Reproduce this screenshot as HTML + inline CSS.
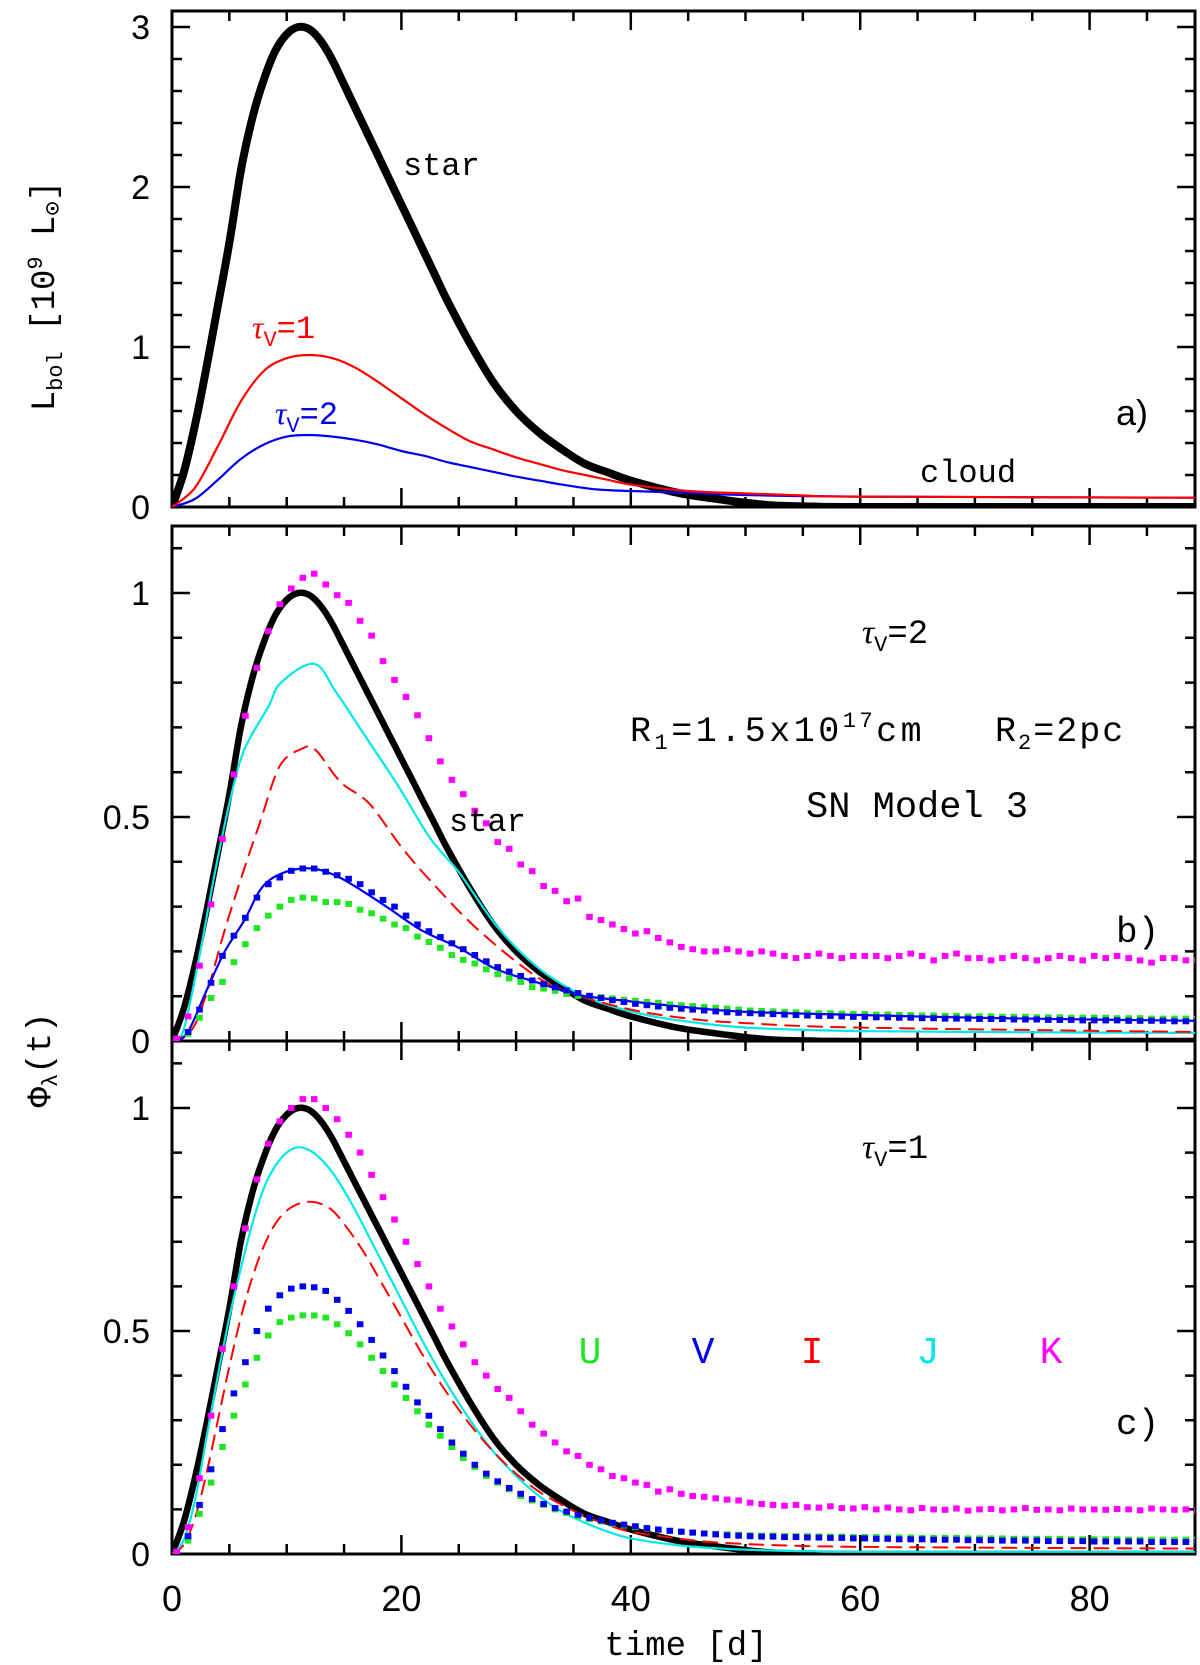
<!DOCTYPE html>
<html><head><meta charset="utf-8"><style>
html,body{margin:0;padding:0;background:#fff;}
svg{display:block;}
.mono{font-family:"Liberation Mono",monospace;}
.sans{font-family:"Liberation Sans",sans-serif;}
</style></head><body>
<svg id="fig" width="1200" height="1665" viewBox="0 0 1200 1665" xmlns="http://www.w3.org/2000/svg">
<g id="axes"></g>
<g id="marks"></g>
<g id="labels">
 <text class="mono" transform="translate(54,296) rotate(-90)" text-anchor="middle" font-size="34">L<tspan font-size="22" dy="8">bol</tspan><tspan dy="-8"> [10</tspan><tspan font-size="22" dy="-12">9</tspan><tspan dy="12"> L</tspan><tspan font-size="24" dy="6">⊙</tspan><tspan dy="-6">]</tspan></text>
 <text class="mono" transform="translate(50,1060) rotate(-90)" text-anchor="middle" font-size="34">Φ<tspan font-size="22" dy="7">λ</tspan><tspan dy="-7">(t)</tspan></text>
 <text class="mono" x="686" y="1655" text-anchor="middle" font-size="34">time [d]</text>
 <text class="mono" x="403" y="175" font-size="32">star</text>
 <text class="mono" x="252" y="338" font-size="32" fill="#ff0000"><tspan font-style="italic" font-family="Liberation Serif">τ</tspan><tspan font-size="22" dy="8">V</tspan><tspan dy="-8">=1</tspan></text>
 <text class="mono" x="275" y="424" font-size="32" fill="#0000ee"><tspan font-style="italic" font-family="Liberation Serif">τ</tspan><tspan font-size="22" dy="8">V</tspan><tspan dy="-8">=2</tspan></text>
 <text class="mono" x="920" y="482" font-size="32">cloud</text>
 <text class="sans" x="1116" y="425" font-size="36">a)</text>
 <text class="mono" x="862" y="643" font-size="34"><tspan font-style="italic" font-family="Liberation Serif">τ</tspan><tspan font-size="22" dy="8">V</tspan><tspan dy="-8">=2</tspan></text>
 <text class="mono" x="630" y="741" font-size="35" letter-spacing="3.5">R<tspan font-size="22" dy="8">1</tspan><tspan dy="-8">=1.5x10</tspan><tspan font-size="22" dy="-14">17</tspan><tspan dy="14">cm</tspan></text>
 <text class="mono" x="995" y="741" font-size="35" letter-spacing="2">R<tspan font-size="22" dy="8">2</tspan><tspan dy="-8">=2pc</tspan></text>
 <text class="mono" x="806" y="817" font-size="37">SN Model 3</text>
 <text class="mono" x="449" y="831" font-size="32">star</text>
 <text class="mono" x="1116" y="942" font-size="36">b)</text>
 <text class="mono" x="862" y="1158" font-size="34"><tspan font-style="italic" font-family="Liberation Serif">τ</tspan><tspan font-size="22" dy="8">V</tspan><tspan dy="-8">=1</tspan></text>
 <text class="mono" x="590" y="1363" text-anchor="middle" font-size="38" fill="#22e622">U</text>
 <text class="mono" x="703" y="1363" text-anchor="middle" font-size="38" fill="#0000ee">V</text>
 <text class="mono" x="812" y="1363" text-anchor="middle" font-size="38" fill="#ff0000">I</text>
 <text class="mono" x="928" y="1363" text-anchor="middle" font-size="38" fill="#00e8e8">J</text>
 <text class="mono" x="1051" y="1363" text-anchor="middle" font-size="38" fill="#ff00ff">K</text>
 <text class="mono" x="1116" y="1434" font-size="36">c)</text>
</g>
</svg>
<script>
// ---------- data ----------
const xTickLabels = [0, 20, 40, 60, 80];
const aTickLabels = [0, 1, 2, 3];
const bcTickLabels = [0, 0.5, 1];
// star (normalized) – panel a uses 3x
const starT = [0,1,2,3,4,5,6,7,8,9,10,11,12,13,14,15,16,17,18,19,20,21,22,23,24,26,28,30,32,34,36,38,40,44,48,52,56,60,89.3];
const starV = [0,.07,.17,.29,.42,.55,.70,.81,.89,.95,.985,1.0,.995,.97,.93,.88,.83,.78,.73,.68,.63,.58,.53,.48,.43,.34,.26,.2,.155,.12,.09,.072,.055,.03,.015,.004,.001,0,0];
const aStarScale = 3;
const redAT = [0,2,4,6,8,10,12,14,16,18,20,22,24,26,28,30,32,34,36,38,40,45,50,55,60,89.3];
const redAV = [0,.12,.38,.66,.85,.93,.95,.93,.87,.78,.68,.58,.49,.41,.36,.31,.27,.23,.2,.17,.14,.1,.085,.072,.065,.058];
const blueAT = [0,2,4,6,8,10,12,14,16,18,20,22,24,26,28,30,32,34,37,40,45,50,60,89.3];
const blueAV = [0,.05,.17,.3,.39,.44,.45,.44,.42,.39,.35,.32,.28,.25,.22,.19,.165,.14,.11,.1,.088,.075,.065,.058];
// panel b lines
const jBT = [0,1,2.35,3.7,5,6.3,8.4,9.5,12.4,14.3,16.6,19.7,22.5,25,28.3,31.7,35,38,42,46,50,55,60,70,89.3];
const jBV = [0,.024,.185,.37,.53,.65,.746,.80,.842,.779,.69,.57,.453,.377,.257,.168,.112,.08,.055,.04,.03,.025,.022,.02,.018];
const iBT = [0,1.7,3,4.6,6.3,7.7,9.4,11.3,12.5,14.7,17.2,20,22.7,26.7,31.7,35,40,45,50,60,89.3];
const iBV = [0,.024,.105,.248,.385,.49,.614,.652,.65,.578,.53,.433,.353,.248,.145,.105,.07,.05,.04,.03,.02];
const vBT = [0,1.3,3,4.6,6.3,8.2,11.3,14.3,18.4,21.7,25,28.3,31.7,35,37.3,45,50,60,70,80,89.3];
const vBV = [0,.016,.112,.2,.269,.353,.385,.369,.305,.248,.208,.16,.132,.105,.096,.075,.065,.058,.052,.048,.045];
// dotted series, one value per day (t = 0.4 .. 89.4)
const uB = [.005,.016,.052,.096,.132,.176,.216,.252,.28,.30,.315,.32,.318,.31,.31,.306,.293,.285,.273,.26,.252,.233,.221,.208,.192,.181,.173,.16,.149,.14,.132,.12,.117,.112,.105,.101,.1,.098,.095,.092,.09,.087,.085,.082,.08,.078,.076,.074,.072,.07,.068,
 .067,.066,.065,.064,.063,.062,.062,.061,.06,.06,.059,.059,.058,.058,.057,.057,.056,.056,.055,.055,.055,.054,.054,.054,.053,.053,.053,.052,.052,.052,.052,.051,.051,.051,.05,.05,.05,.05,.05];
const vB = [.004,.02,.07,.13,.19,.235,.275,.32,.35,.365,.38,.385,.385,.378,.37,.362,.35,.332,.315,.3,.28,.26,.245,.232,.218,.205,.192,.178,.165,.155,.145,.135,.127,.12,.113,.107,.101,.096,.091,.087,.083,.08,.077,.074,.072,.07,.068,.066,.064,.063,.062,
 .061,.06,.059,.058,.057,.056,.056,.055,.054,.054,.053,.053,.052,.052,.051,.051,.05,.05,.05,.049,.049,.049,.048,.048,.048,.047,.047,.047,.046,.046,.046,.046,.045,.045,.045,.045,.044,.044,.044];
const kB = [.005,.055,.168,.305,.451,.595,.726,.833,.915,.975,1.01,1.034,1.043,1.019,.995,.978,.938,.905,.848,.806,.768,.727,.676,.624,.583,.551,.514,.486,.444,.429,.394,.379,.346,.335,.312,.318,.277,
 .27,.26,.25,.24,.245,.23,.22,.21,.205,.20,.20,.205,.20,.195,.20,.195,.19,.185,.19,.195,.19,.185,.19,.19,.19,.185,.19,.195,.19,.18,.19,.195,.185,.185,.18,.185,.19,.185,.18,.185,.19,.185,.18,.19,.185,.19,.185,.18,.175,.185,.185,.18,.18];
// panel c lines
const jCT = [0,1,2,3,4,5,6,7,8,9,10,11,12,13,14,15,16,17,18,19,20,22,24,26,28,30,32,34,36,38,40,44,48,52,56,60,89.3];
const jCV = [0,.03,.12,.26,.4,.53,.64,.74,.82,.87,.9,.912,.905,.885,.855,.815,.77,.72,.67,.62,.57,.47,.38,.3,.23,.175,.13,.095,.07,.05,.035,.02,.012,.008,.006,.005,.005];
const iCT = [0,1,2,3,4,5,6,7,8,9,10,11,12,13,14,15,16,17,18,19,20,22,24,26,28,30,32,34,36,38,40,44,48,55,65,89.3];
const iCV = [0,.02,.08,.18,.3,.42,.53,.62,.69,.74,.77,.785,.79,.785,.77,.74,.705,.665,.62,.575,.53,.44,.36,.29,.23,.18,.14,.11,.085,.065,.05,.035,.025,.018,.015,.012];
const uC = [.005,.03,.09,.16,.24,.31,.38,.44,.49,.52,.53,.535,.535,.53,.515,.495,.47,.44,.41,.38,.35,.32,.29,.265,.24,.215,.195,.175,.16,.145,.13,.12,.11,.1,.092,.085,.078,.073,.068,.064,.06,.057,.054,.052,.05,.048,.046,.045,.044,.043,.042,
 .041,.041,.04,.04,.04,.039,.039,.039,.038,.038,.038,.037,.037,.037,.036,.036,.036,.036,.035,.035,.035,.035,.034,.034,.034,.034,.034,.033,.033,.033,.033,.033,.032,.032,.032,.032,.032,.032,.032];
const vC = [.005,.04,.11,.19,.28,.36,.43,.5,.55,.58,.595,.6,.598,.59,.57,.545,.515,.48,.445,.41,.375,.34,.31,.28,.25,.225,.2,.18,.163,.148,.135,.123,.112,.103,.095,.088,.081,.075,.07,.066,.062,.058,.055,.052,.05,.048,.046,.044,.042,.041,.04,
 .039,.039,.038,.038,.037,.037,.036,.036,.035,.035,.034,.034,.033,.033,.033,.032,.032,.032,.031,.031,.031,.03,.03,.03,.03,.029,.029,.029,.029,.028,.028,.028,.028,.028,.027,.027,.027,.027,.027];
const kC = [.005,.06,.17,.31,.46,.6,.73,.84,.92,.97,1.0,1.02,1.02,1.0,.975,.94,.9,.85,.8,.75,.7,.65,.6,.55,.51,.47,.43,.4,.37,.35,.32,.29,.27,.25,.23,.22,.2,.19,.175,.17,.16,.155,.14,.145,.135,.13,.128,.125,.122,.12,.115,
 .112,.11,.108,.11,.105,.104,.107,.103,.102,.105,.1,.104,.1,.098,.103,.1,.099,.102,.097,.1,.101,.098,.1,.103,.099,.1,.098,.102,.1,.1,.099,.101,.1,.098,.102,.1,.099,.1,.097];
const dotT0 = 0.4;

// ---------- geometry ----------
const X0 = 172, XR = 1195, PXD = 11.47;
const panels = {
  a:{top:11, bot:507, y0:507, k:160},
  b:{top:526, bot:1041, y0:1041, k:448},
  c:{top:1041, bot:1554, y0:1554, k:446}
};
const xs = t => X0 + t*PXD;
const ys = (p,v) => panels[p].y0 - v*panels[p].k;
const NS = 'http://www.w3.org/2000/svg';
const axesG = document.getElementById('axes');
const marksG = document.getElementById('marks');
function mk(tag, attrs, parent){
  const e = document.createElementNS(NS, tag);
  for (const k in attrs) e.setAttribute(k, attrs[k]);
  parent.appendChild(e);
  return e;
}

for (const p of ['a','b','c']) {
  const P = panels[p];
  const fr = mk('rect',{x:X0,y:P.top,width:XR-X0,height:P.bot-P.top,fill:'none',stroke:'#000','stroke-width':3},axesG);
  
  
  let d = '';
  for (let t=5; t<90; t+=5) {
    const L = (t%20===0)?19:10, x=xs(t);
    d += `M${x},${P.bot}v${-L}M${x},${P.top}v${L}`;
  }
  const maxV = (P.y0-P.top)/P.k;
  const minor = p==='a'?0.2:0.1, majorEvery = 5;
  for (let i=1; i*minor<maxV; i++) {
    const y = ys(p,i*minor);
    if (y < P.top+2) break;
    const L = (i%majorEvery===0)?18:10;
    d += `M${X0},${y}h${L}M${XR},${y}h${-L}`;
  }
  const tk = mk('path',{d:d,stroke:'#000','stroke-width':2.5,fill:'none'},axesG);
  
  
  const labs = p==='a'?aTickLabels:bcTickLabels;
  for (const v of labs) {
    const tx = mk('text',{x:150,y:ys(p,v)+12,'text-anchor':'end','font-size':34,class:'sans'},axesG);
    tx.textContent = String(v);
    
    
  }
}
for (const v of xTickLabels) {
  const tx = mk('text',{x:xs(v),y:1611,'text-anchor':'middle','font-size':36,class:'sans'},axesG);
  tx.textContent = String(v);
  
  
}

const defs = mk('defs',{},marksG);
for (const p of ['a','b','c']) {
  const cp = mk('clipPath',{id:'clip-'+p},defs);
  mk('rect',{x:X0,y:panels[p].top-12,width:XR-X0,height:panels[p].bot-panels[p].top+12},cp);
}

function smoothPath(pts){
  let d = `M${pts[0][0].toFixed(1)},${pts[0][1].toFixed(1)}`;
  for (let i=0;i<pts.length-1;i++){
    const p0=pts[Math.max(0,i-1)], p1=pts[i], p2=pts[i+1], p3=pts[Math.min(pts.length-1,i+2)];
    const c1x=p1[0]+(p2[0]-p0[0])/6, c1y=p1[1]+(p2[1]-p0[1])/6;
    const c2x=p2[0]-(p3[0]-p1[0])/6, c2y=p2[1]-(p3[1]-p1[1])/6;
    d += `C${c1x.toFixed(1)},${c1y.toFixed(1)} ${c2x.toFixed(1)},${c2y.toFixed(1)} ${p2[0].toFixed(1)},${p2[1].toFixed(1)}`;
  }
  return d;
}
function line(p, T, V, color, w, name, dash, scale){
  const s = scale||1;
  const pts = T.map((t,i)=>[xs(t), ys(p,V[i]*s)]);
  const e = mk('path',{d:smoothPath(pts),fill:'none',stroke:color,'stroke-width':w,'stroke-linejoin':'round','stroke-linecap':'round','clip-path':`url(#clip-${p})`},marksG);
  if (dash) e.setAttribute('stroke-dasharray', dash);
  
  
}
function dots(p, V, color, name){
  const g = mk('g',{fill:color,'clip-path':`url(#clip-${p})`},marksG);
  
  
  V.forEach((v,i)=>{
    const r = mk('rect',{x:(xs(dotT0+i)-3.3).toFixed(1),y:(ys(p,v)-3).toFixed(1),width:6.6,height:6},g);
    
    
  });
}

line('a', starT, starV, '#000', 8, 'star-curve-a', null, aStarScale);
line('a', blueAT, blueAV, '#0000ee', 2.2, 'tau2-curve-a');
line('a', redAT, redAV, '#ff0000', 2.2, 'tau1-curve-a');
line('b', starT, starV, '#000', 6.5, 'star-curve-b');
line('b', jBT, jBV, '#00e8e8', 2.2, 'j-band-curve-b');
line('b', iBT, iBV, '#ff0000', 2, 'i-band-curve-b', '14 9');
line('b', vBT, vBV, '#0000ee', 2.2, 'v-band-line-b');
dots('b', uB, '#22e622', 'u-band-dots-b');
dots('b', vB, '#0000ee', 'v-band-dots-b');
dots('b', kB, '#ff00ff', 'k-band-dots-b');
line('c', starT, starV, '#000', 6.5, 'star-curve-c');
line('c', jCT, jCV, '#00e8e8', 2.2, 'j-band-curve-c');
line('c', iCT, iCV, '#ff0000', 2, 'i-band-curve-c', '14 9');
dots('c', uC, '#22e622', 'u-band-dots-c');
dots('c', vC, '#0000ee', 'v-band-dots-c');
dots('c', kC, '#ff00ff', 'k-band-dots-c');
</script>
</body></html>
